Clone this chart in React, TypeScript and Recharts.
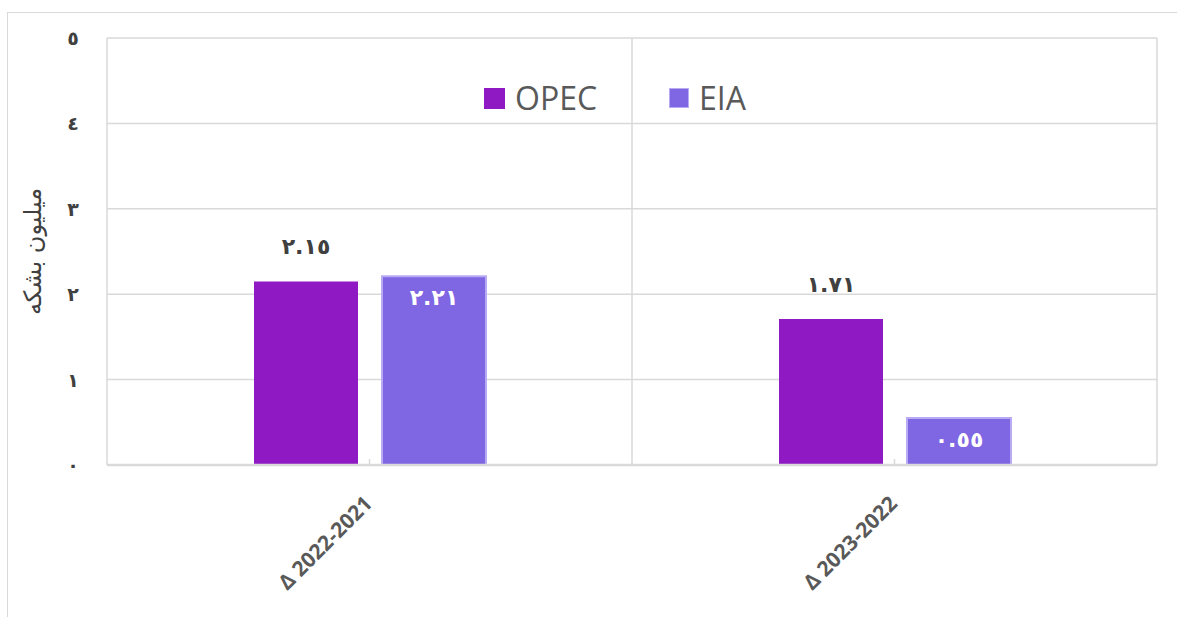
import React from 'react';
import { BarChart, Bar, XAxis, YAxis, CartesianGrid, LabelList, Legend } from 'recharts';

const categories = ['Δ 2022-2021', 'Δ 2023-2022'];
const opecValues = [2.15, 1.71];
const eiaValues = [2.21, 0.55];
const yTicks = [0, 1, 2, 3, 4, 5];
const yTitle = 'میلیون بشکه';
const seriesOrder = ['OPEC', 'EIA'];

const data = categories.map((c, i) => ({ name: c, OPEC: opecValues[i], EIA: eiaValues[i] }));

const AR_DIGITS = '٠١٢٣٤٥٦٧٨٩';
const toArabic = (v: any) => String(v).replace(/\d/g, (d) => AR_DIGITS[+d]);

const OPEC_COLOR = '#8F1AC4';
const EIA_COLOR = '#7F66E3';
const EIA_STROKE = '#B9ABF3';
const GRID = '#D9D9D9';

const XTick = (props: any) => {
  const { x, y, payload } = props;
  return (
    <g>
      <line x1={x} x2={x} y1={y - 6} y2={y} stroke={GRID} strokeWidth={1.5} />
      <text
        transform={`translate(${x + 4},${y + 40}) rotate(-45)`}
        textAnchor="end"
        fill="#595959"
        fontFamily="'Open Sans', sans-serif"
        fontWeight={700}
        fontSize={21}
      >
        {payload.value}
      </text>
    </g>
  );
};

const YTick = (props: any) => {
  const { y, payload } = props;
  return (
    <text
      x={65}
      y={y}
      dy={7}
      textAnchor="middle"
      fill="#404040"
      fontFamily="'DejaVu Sans', sans-serif"
      fontWeight={700}
      fontSize={19}
    >
      {toArabic(payload.value)}
    </text>
  );
};

const LegendContent = (props: any) => {
  const payload = [...(props.payload || [])].sort(
    (a: any, b: any) => seriesOrder.indexOf(a.value) - seriesOrder.indexOf(b.value)
  );
  return (
    <div style={{ display: 'flex', alignItems: 'center' }}>
      {payload.map((p: any, i: number) => (
        <div key={i} style={{ display: 'flex', alignItems: 'center', marginRight: i === 0 ? 72 : 0 }}>
          <div
            style={{
              width: p.value === 'EIA' ? 18 : 21,
              height: p.value === 'EIA' ? 18 : 21,
              background: p.color,
              border: p.value === 'EIA' ? `1.5px solid ${EIA_STROKE}` : 'none',
              marginRight: 10,
            }}
          />
          <span
            style={{
              fontFamily: "'Open Sans', sans-serif",
              fontSize: 32,
              lineHeight: '32px',
              color: '#595959',
            }}
          >
            {p.value}
          </span>
        </div>
      ))}
    </div>
  );
};

export default function App() {
  return (
    <div
      style={{
        position: 'fixed',
        left: 7,
        top: 12,
        width: 1170,
        height: 605,
        borderTop: `1px solid ${GRID}`,
        borderLeft: `1px solid ${GRID}`,
        background: '#fff',
      }}
    >
      <BarChart
        width={1160}
        height={600}
        data={data}
        margin={{ top: 25, right: 11, bottom: 8, left: 0 }}
        barSize={104}
        barGap={24}
      >
        <CartesianGrid
          stroke={GRID}
          strokeWidth={1.5}
          verticalCoordinatesGenerator={({ offset }: any) => [
            offset.left,
            offset.left + offset.width / 2,
            offset.left + offset.width,
          ]}
        />
        <XAxis
          dataKey="name"
          height={140}
          axisLine={{ stroke: GRID, strokeWidth: 2.5 }}
          tickLine={false}
          tickSize={0}
          tickMargin={0}
          tick={<XTick />}
          interval={0}
        />
        <YAxis
          width={99}
          domain={[0, 5]}
          ticks={yTicks}
          axisLine={false}
          tickLine={false}
          tick={<YTick />}
          label={{
            value: yTitle,
            angle: -90,
            position: 'insideLeft',
            offset: 24,
            style: {
              textAnchor: 'middle',
              fontFamily: "'DejaVu Sans', sans-serif",
              fontSize: 24,
              fill: '#404040',
            },
          }}
        />
        <Legend
          layout="horizontal"
          verticalAlign="middle"
          align="center"
          itemSorter={null as any}
          content={<LegendContent />}
          wrapperStyle={{ position: 'absolute', top: 69, left: 476, width: 'auto', height: 'auto' }}
        />
        <Bar dataKey="OPEC" fill={OPEC_COLOR} isAnimationActive={false}>
          <LabelList
            dataKey="OPEC"
            position="top"
            offset={27}
            formatter={(v: any) => toArabic(v)}
            style={{ fontFamily: "'DejaVu Sans', sans-serif", fontWeight: 700, fontSize: 22, fill: '#404040' }}
          />
        </Bar>
        <Bar dataKey="EIA" fill={EIA_COLOR} stroke={EIA_STROKE} strokeWidth={2} isAnimationActive={false}>
          <LabelList
            dataKey="EIA"
            position="insideTop"
            offset={13}
            formatter={(v: any) => toArabic(v)}
            style={{ fontFamily: "'DejaVu Sans', sans-serif", fontWeight: 700, fontSize: 22, fill: '#FFFFFF' }}
          />
        </Bar>
      </BarChart>
    </div>
  );
}
